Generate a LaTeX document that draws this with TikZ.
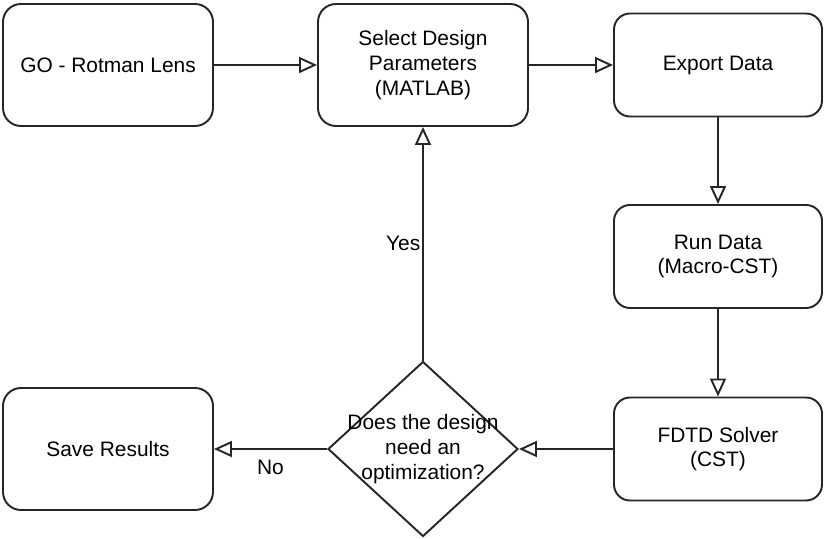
\documentclass[tikz,border=0pt]{standalone}
\usepackage{fontspec}
\setmainfont{Liberation Sans}
\usepackage{tikz}
\usetikzlibrary{arrows.meta,shapes.geometric}

\begin{document}
\begin{tikzpicture}[
  font=\fontsize{11.9}{14.1}\selectfont,
  box/.style={draw=black!85, line width=1.1pt, rounded corners=0.36cm, fill=white, align=center, minimum width=4.2cm, minimum height=2.44cm},
  sbox/.style={box, rounded corners=0.32cm, minimum width=4.16cm, minimum height=2.06cm},
  decision/.style={draw=black!85, line width=1.1pt, diamond, fill=white, minimum width=3.8cm, minimum height=3.5cm, inner sep=0pt},
  arr/.style={-{Triangle[open, length=3.6mm, width=3.2mm]}, line width=1.1pt, color=black!85},
  lab/.style={text=black, inner sep=1pt, midway},
]
  \useasboundingbox (0,0) rectangle (16.48,10.76);
  % top row
  \node[box]  (go)  at (2.16,9.46)  {GO - Rotman Lens};
  \node[box]  (sel) at (8.46,9.46)  {Select Design\\Parameters\\(MATLAB)};
  \node[sbox] (exp) at (14.36,9.46) {Export Data};
  % right column
  \node[sbox] (run)  at (14.36,5.63) {Run Data\\(Macro-CST)};
  \node[sbox] (fdtd) at (14.36,1.78) {FDTD Solver\\(CST)};
  % decision and exit
  \node[decision, label={[align=center]center:Does the design\\need an\\optimization?}] (opt) at (8.46,1.78) {};
  \node[box]  (save) at (2.16,1.78) {Save Results};
  \draw[arr] (go) -- (sel);
  \draw[arr] (sel) -- (exp);
  \draw[arr] (exp) -- (run);
  \draw[arr] (run) -- (fdtd);
  \draw[arr] (fdtd) -- (opt);
  \draw[arr] (opt) -- node[lab, below=5pt]{No} (save);
  \draw[arr] (opt) -- node[lab, left]{Yes} (sel);
\end{tikzpicture}
\end{document}
